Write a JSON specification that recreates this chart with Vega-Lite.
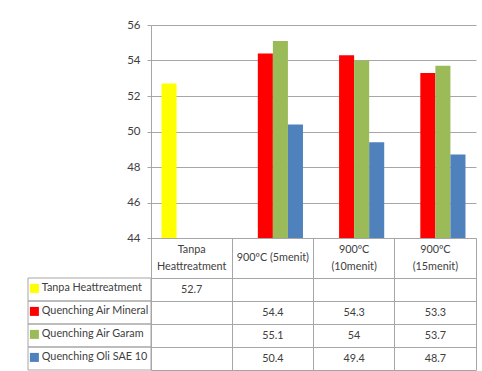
{
  "$schema": "https://vega.github.io/schema/vega-lite/v6.json",
  "background": "white",
  "padding": {"left": 27, "top": 19, "right": 5, "bottom": 0},
  "datasets": {
    "kekerasan": [
      {"kondisi": "Tanpa\nHeattreatment", "perlakuan": "Tanpa Heattreatment", "nilai": 52.7},
      {"kondisi": "900ºC (5menit)", "perlakuan": "Quenching Air Mineral", "nilai": 54.4},
      {"kondisi": "900ºC (5menit)", "perlakuan": "Quenching Air Garam", "nilai": 55.1},
      {"kondisi": "900ºC (5menit)", "perlakuan": "Quenching Oli SAE 10", "nilai": 50.4},
      {"kondisi": "900ºC\n(10menit)", "perlakuan": "Quenching Air Mineral", "nilai": 54.3},
      {"kondisi": "900ºC\n(10menit)", "perlakuan": "Quenching Air Garam", "nilai": 54},
      {"kondisi": "900ºC\n(10menit)", "perlakuan": "Quenching Oli SAE 10", "nilai": 49.4},
      {"kondisi": "900ºC\n(15menit)", "perlakuan": "Quenching Air Mineral", "nilai": 53.3},
      {"kondisi": "900ºC\n(15menit)", "perlakuan": "Quenching Air Garam", "nilai": 53.7},
      {"kondisi": "900ºC\n(15menit)", "perlakuan": "Quenching Oli SAE 10", "nilai": 48.7}
    ]
  },
  "columns": 2,
  "spacing": 0,
  "bounds": "flush",
  "align": "each",
  "resolve": {
    "scale": {"x": "independent", "y": "independent", "color": "independent"},
    "legend": {"color": "independent"}
  },
  "concat": [
    {
      "width": 123,
      "height": 213,
      "data": {"values": []},
      "mark": "rect"
    },
    {
      "width": 325,
      "height": 213,
      "data": {"name": "kekerasan"},
      "mark": {"type": "bar", "clip": true},
      "encoding": {
        "x": {
          "field": "kondisi",
          "type": "nominal",
          "sort": ["Tanpa\nHeattreatment", "900ºC (5menit)", "900ºC\n(10menit)", "900ºC\n(15menit)"],
          "scale": {"type": "band", "paddingInner": 0, "paddingOuter": 0},
          "axis": null
        },
        "xOffset": {
          "field": "perlakuan",
          "type": "nominal",
          "scale": {
            "domain": ["Tanpa Heattreatment", "Quenching Air Mineral", "Quenching Air Garam", "Quenching Oli SAE 10"],
            "paddingInner": 0,
            "paddingOuter": 0.7
          }
        },
        "y": {
          "field": "nilai",
          "type": "quantitative",
          "scale": {"domain": [44, 56], "zero": false, "nice": false},
          "axis": {
            "values": [44, 46, 48, 50, 52, 54, 56],
            "title": null,
            "grid": true,
            "gridColor": "#a6a6a6",
            "domainColor": "#a6a6a6",
            "tickColor": "#a6a6a6",
            "tickSize": 4,
            "labelPadding": 7,
            "labelFontSize": 11.5,
            "labelColor": "#404040"
          }
        },
        "color": {
          "field": "perlakuan",
          "type": "nominal",
          "scale": {
            "domain": ["Tanpa Heattreatment", "Quenching Air Mineral", "Quenching Air Garam", "Quenching Oli SAE 10"],
            "range": ["#ffff00", "#ff0000", "#9bbb59", "#4f81bd"]
          },
          "legend": {
            "orient": "none",
            "legendX": -122,
            "legendY": 258,
            "title": null,
            "padding": 0,
            "symbolType": "square",
            "symbolSize": 81,
            "symbolStrokeWidth": 0,
            "labelFontSize": 10.8,
            "labelColor": "#404040",
            "labelOffset": 2,
            "rowPadding": 11
          }
        }
      }
    },
    {
      "width": 123,
      "height": 40,
      "data": {"values": []},
      "mark": "rect"
    },
    {
      "width": 325,
      "height": 40,
      "data": {"name": "kekerasan"},
      "transform": [{"aggregate": [{"op": "count", "as": "jumlah"}], "groupby": ["kondisi"]}],
      "view": {"stroke": "#a6a6a6"},
      "encoding": {
        "x": {
          "field": "kondisi",
          "type": "nominal",
          "sort": ["Tanpa\nHeattreatment", "900ºC (5menit)", "900ºC\n(10menit)", "900ºC\n(15menit)"],
          "scale": {"type": "band", "paddingInner": 0, "paddingOuter": 0},
          "axis": {"bandPosition": 0, "grid": true, "gridColor": "#a6a6a6", "labels": false, "ticks": false, "domain": false, "title": null}
        },
        "text": {"field": "kondisi", "type": "nominal"}
      },
      "layer": [
        {
          "transform": [{"filter": "indexof(datum.kondisi, '\\n') < 0"}],
          "mark": {"type": "text", "fontSize": 10.8, "color": "#404040"}
        },
        {
          "transform": [{"filter": "indexof(datum.kondisi, '\\n') >= 0"}],
          "mark": {"type": "text", "lineBreak": "\n", "lineHeight": 17, "dy": -8.5, "fontSize": 10.8, "color": "#404040"}
        }
      ]
    },
    {
      "width": 123,
      "height": 92,
      "data": {"name": "kekerasan"},
      "transform": [{"aggregate": [{"op": "count", "as": "jumlah"}], "groupby": ["perlakuan"]}],
      "mark": {"type": "rect", "fill": "transparent", "stroke": "#a6a6a6", "strokeWidth": 1},
      "encoding": {
        "y": {
          "field": "perlakuan",
          "type": "nominal",
          "sort": ["Tanpa Heattreatment", "Quenching Air Mineral", "Quenching Air Garam", "Quenching Oli SAE 10"],
          "scale": {"type": "band", "paddingInner": 0, "paddingOuter": 0},
          "axis": null
        }
      }
    },
    {
      "width": 325,
      "height": 92,
      "data": {"name": "kekerasan"},
      "view": {"stroke": "#a6a6a6"},
      "mark": {"type": "text", "fontSize": 10.8, "color": "#404040"},
      "encoding": {
        "x": {
          "field": "kondisi",
          "type": "nominal",
          "sort": ["Tanpa\nHeattreatment", "900ºC (5menit)", "900ºC\n(10menit)", "900ºC\n(15menit)"],
          "scale": {"type": "band", "paddingInner": 0, "paddingOuter": 0},
          "axis": {"bandPosition": 0, "grid": true, "gridColor": "#a6a6a6", "labels": false, "ticks": false, "domain": false, "title": null}
        },
        "y": {
          "field": "perlakuan",
          "type": "nominal",
          "sort": ["Tanpa Heattreatment", "Quenching Air Mineral", "Quenching Air Garam", "Quenching Oli SAE 10"],
          "scale": {"type": "band", "paddingInner": 0, "paddingOuter": 0},
          "axis": {"bandPosition": 0, "grid": true, "gridColor": "#a6a6a6", "labels": false, "ticks": false, "domain": false, "title": null}
        },
        "text": {"field": "nilai", "type": "quantitative", "format": "~g"}
      }
    }
  ],
  "config": {
    "font": "Lato",
    "view": {"stroke": null}
  }
}
